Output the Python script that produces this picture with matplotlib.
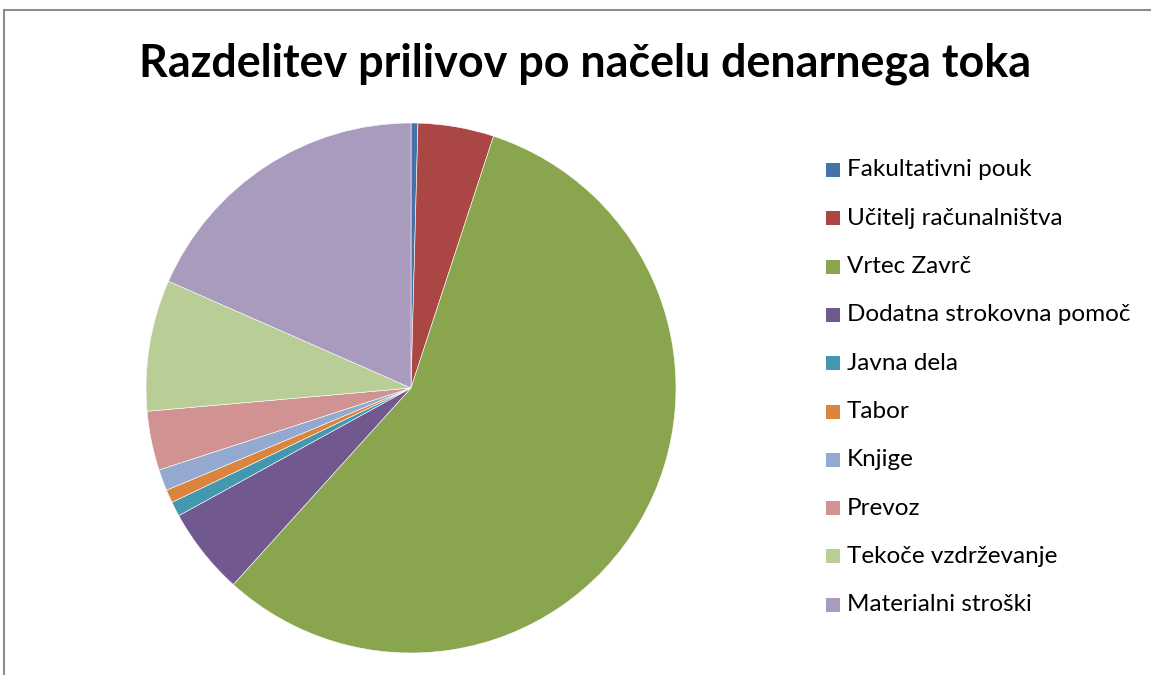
import matplotlib
matplotlib.use("Agg")
import matplotlib.pyplot as plt
from matplotlib.patches import Rectangle

categories = ["Fakultativni pouk", "Učitelj računalništva", "Vrtec Zavrč",
              "Dodatna strokovna pomoč", "Javna dela", "Tabor", "Knjige",
              "Prevoz", "Tekoče vzdrževanje", "Materialni stroški"]
values = [0.42, 4.62, 56.66, 5.3, 0.9, 0.8, 1.3, 3.6, 8.0, 18.4]
colors = ["#4572A7", "#AA4643", "#89A54E", "#71588F", "#4198AF",
          "#DB843D", "#93A9CF", "#D19392", "#B9CD96", "#A99BBD"]
title = "Razdelitev prilivov po načelu denarnega toka"

W, H = 1151, 675
fig = plt.figure(figsize=(W / 100, H / 100), dpi=100)
fig.patch.set_facecolor("white")

# outer frame (partly cut off at right/bottom)
fig.patches.append(Rectangle((4 / W, -0.1), 1.2, (H - 10) / H + 0.1,
                             transform=fig.transFigure, fill=False,
                             edgecolor="#8c8c8c", linewidth=1.5))

cx, cy, r = 411, 388, 265
ax = fig.add_axes([(cx - r) / W, (H - cy - r) / H, 2 * r / W, 2 * r / H])
ax.pie(values, colors=colors, startangle=90, counterclock=False,
       wedgeprops=dict(edgecolor="white", linewidth=0.4))
ax.set_xlim(-1, 1)
ax.set_ylim(-1, 1)
ax.set_aspect("equal")
ax.axis("off")

fig.text(585 / W, 1 - 64 / H, title, ha="center", va="center",
         fontsize=32.3, fontweight="bold", family="Lato", color="black")

# legend
y0, dy = 170, 48.3
for i, (lab, col) in enumerate(zip(categories, colors)):
    y = y0 + i * dy
    fig.patches.append(Rectangle((826 / W, 1 - (y + 7) / H), 14 / W, 14 / H,
                                 transform=fig.transFigure, facecolor=col,
                                 edgecolor="none"))
    fig.text(847 / W, 1 - y / H, lab, ha="left", va="center",
             fontsize=17.5, family="Lato", color="black")

fig.savefig("out.png", dpi=100)
